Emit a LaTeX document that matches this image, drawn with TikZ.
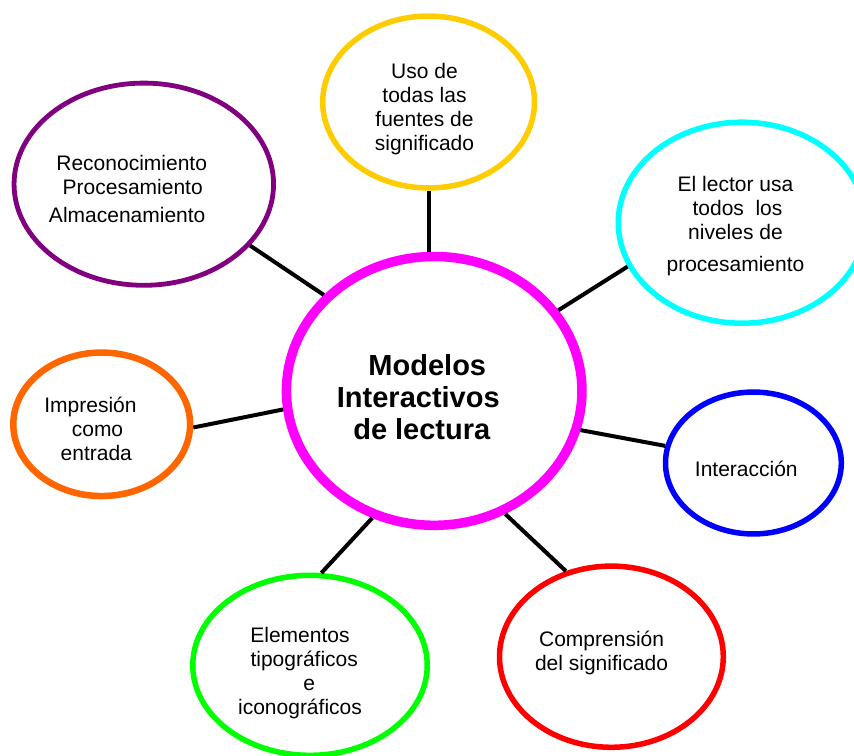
\documentclass[tikz,border=0pt]{standalone}
\usepackage{fontspec}
\setmainfont{Liberation Sans}
\usetikzlibrary{shapes.geometric}
\definecolor{cyel}{HTML}{FFCC00}
\definecolor{cpur}{HTML}{800080}
\definecolor{ccya}{HTML}{00FFFF}
\definecolor{cmag}{HTML}{FF00FF}
\definecolor{cora}{HTML}{FF6600}
\definecolor{cblu}{HTML}{0000FF}
\definecolor{cgrn}{HTML}{00FF00}
\definecolor{cred}{HTML}{FF0000}
\begin{document}
\begin{tikzpicture}[x=1pt,y=-1pt,
  bub/.style={draw, ellipse, inner sep=0pt, line width=5.5pt},
  lbl/.style={align=center, inner sep=0pt, font=\fontsize{21}{24}\selectfont},
  ttl/.style={align=center, inner sep=0pt, font=\fontsize{29}{32}\selectfont\bfseries},
  link/.style={draw=black, line width=4pt}]
\useasboundingbox (0,0) rectangle (854,755);

% bubbles
\node[bub, draw=cmag, line width=9.5pt, minimum width=295.5pt, minimum height=268.8pt] (mag) at (434.2,390.9) {};
\node[bub, draw=cyel, minimum width=211.8pt, minimum height=171.9pt] (yel) at (428.6,102) {};
\node[bub, draw=cpur, line width=4.8pt, minimum width=259.5pt, minimum height=202.2pt] (pur) at (143.8,184.2) {};
\node[bub, draw=ccya, minimum width=247.5pt, minimum height=201pt] (cya) at (742,222.7) {};
\node[bub, draw=cora, line width=6.5pt, minimum width=176.8pt, minimum height=143.5pt] (ora) at (101.7,424.3) {};
\node[bub, draw=cblu, minimum width=175.8pt, minimum height=141.9pt] (blu) at (753.4,463) {};
\node[bub, draw=cgrn, minimum width=234.5pt, minimum height=180pt] (grn) at (310,665.3) {};
\node[bub, draw=cred, minimum width=223.8pt, minimum height=181.2pt] (red) at (611.4,656.7) {};

% labels
\node[ttl] (tmag) at (418.3,401.3) {\strut\hspace*{18pt}Modelos\\ \strut Interactivos\\ \strut\hspace*{7pt}de lectura};
\node[lbl] (tyel) at (424.5,109.5) {\strut Uso de\\ \strut todas las\\ \strut fuentes de\\ \strut significado};
\node[lbl] (tpur) at (127.2,191.4) {\strut\hspace*{9pt}Reconocimiento\\ \strut\hspace*{11pt}Procesamiento\\[4.4pt] \strut Almacenamiento};
\node[lbl] (tcya) at (735.5,226.7) {\strut El lector usa\\ \strut\hspace*{4pt}todos\ \ los\\ \strut niveles de\\[7.7pt] \strut procesamiento};
\node[lbl] (tora) at (90.5,431.9) {\strut Impresión\\ \strut\hspace*{14pt}como\\ \strut\hspace*{11.6pt}entrada};
\node[lbl] (tblu) at (746.3,471.2) {\strut Interacción};
\node[lbl] (tgrn) at (300,673.9) {\strut Elementos\\ \strut\hspace*{8.4pt}tipográficos\\ \strut\hspace*{18.4pt}e\\ \strut iconográficos};
\node[lbl] (tred) at (601.6,653.2) {\strut Comprensión\\ \strut del significado};

% connectors
\draw[link] (yel.south) -- (yel.south |- mag.north);
\draw[link] (pur.-30) -- (mag.139);
\draw[link] (cya.201) -- (mag.33);
\draw[link] (ora.-2) -- (mag.187);
\draw[link] (blu.169) -- (mag.-15);
\draw[link] (grn.83) -- (mag.244);
\draw[link] (red.118) -- (mag.-60);
\end{tikzpicture}
\end{document}
